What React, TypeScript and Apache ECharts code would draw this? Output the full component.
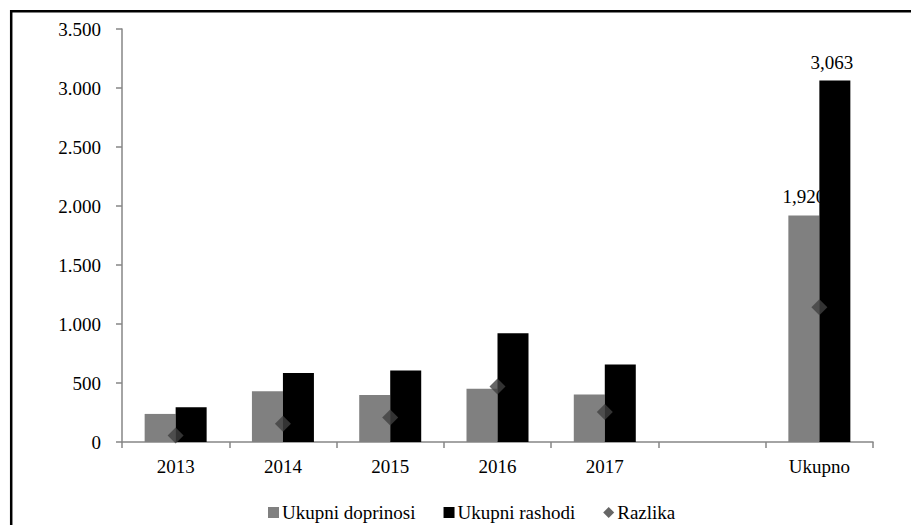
import React, { useEffect, useRef } from "react";
import * as echarts from "echarts";

const categories = ["2013", "2014", "2015", "2016", "2017", "", "Ukupno"];
const doprinosi = [238, 430, 398, 452, 402, null, 1920];
const rashodi = [294, 585, 605, 922, 657, null, 3063];
const razlika = [56, 155, 207, 470, 255, null, 1143];
const yTicks = [0, 500, 1000, 1500, 2000, 2500, 3000, 3500];

const FONT = '"Liberation Serif", "Times New Roman", serif';
const AXIS_COLOR = "#868686";

const fmtY = (v: number) => {
  const s = String(Math.round(v));
  return s.replace(/\B(?=(\d{3})+(?!\d))/g, ".");
};
const fmtLabel = (v: number) => {
  const s = String(Math.round(v));
  return s.replace(/\B(?=(\d{3})+(?!\d))/g, ",");
};

export default function App() {
  const ref = useRef<HTMLDivElement>(null);
  useEffect(() => {
    if (!ref.current) return;
    const chart = echarts.init(ref.current, null, { renderer: "svg" });
    const lastIdx = categories.length - 1;
    chart.setOption({
      animation: false,
      backgroundColor: "#ffffff",
      textStyle: { fontFamily: FONT },
      graphic: [
        {
          type: "rect",
          shape: { x: 11.2, y: 11.2, width: 1200, height: 1200 },
          style: { fill: "none", stroke: "#000000", lineWidth: 2.5 },
          z: 100,
          silent: true,
        },
      ],
      grid: { left: 122, right: 38, top: 29, bottom: 83, containLabel: false },
      legend: {
        left: 263,
        top: 498,
        itemWidth: 11,
        itemHeight: 11,
        itemGap: 28,
        textStyle: { fontFamily: FONT, fontSize: 19, color: "#000000", padding: [0, 0, 0, -2] },
        data: [
          { name: "Ukupni doprinosi", icon: "rect" },
          { name: "Ukupni rashodi", icon: "rect" },
          { name: "Razlika", icon: "diamond" },
        ],
      },
      xAxis: {
        type: "category",
        data: categories,
        axisLine: { lineStyle: { color: AXIS_COLOR, width: 1.5 } },
        axisTick: { show: true, length: 6, lineStyle: { color: AXIS_COLOR, width: 1.5 } },
        axisLabel: { color: "#000000", fontFamily: FONT, fontSize: 19, margin: 15, interval: 0 },
        splitLine: { show: false },
      },
      yAxis: {
        type: "value",
        min: yTicks[0],
        max: yTicks[yTicks.length - 1],
        interval: 500,
        axisLine: { show: true, lineStyle: { color: AXIS_COLOR, width: 1.5 } },
        axisTick: { show: true, length: 6, lineStyle: { color: AXIS_COLOR, width: 1.5 } },
        axisLabel: {
          color: "#000000",
          fontFamily: FONT,
          fontSize: 19,
          margin: 21,
          formatter: (v: number) => fmtY(v),
        },
        splitLine: { show: false },
      },
      series: [
        {
          name: "Ukupni doprinosi",
          type: "bar",
          data: doprinosi,
          barWidth: 31,
          barGap: "0%",
          z: 2,
          itemStyle: { color: "#808080" },
          label: {
            show: true,
            position: "top",
            distance: 9,
            color: "#000000",
            fontFamily: FONT,
            fontSize: 19,
            formatter: (p: any) => (p.dataIndex === lastIdx ? fmtLabel(p.value) : ""),
          },
        },
        {
          name: "Ukupni rashodi",
          type: "bar",
          data: rashodi,
          barWidth: 31,
          barGap: "0%",
          z: 3,
          itemStyle: { color: "#000000" },
          label: {
            show: true,
            position: "top",
            distance: 9,
            offset: [-3, 0],
            color: "#000000",
            fontFamily: FONT,
            fontSize: 19,
            formatter: (p: any) => (p.dataIndex === lastIdx ? fmtLabel(p.value) : ""),
          },
        },
        {
          name: "Razlika",
          type: "scatter",
          data: razlika,
          symbol: "diamond",
          symbolSize: 16,
          z: 4,
          itemStyle: { color: "#404040" },
        },
      ],
    });
    return () => chart.dispose();
  }, []);
  return (
    <div
      ref={ref}
      style={{ position: "absolute", left: 0, top: 0, width: 911, height: 525, background: "#fff" }}
    />
  );
}
